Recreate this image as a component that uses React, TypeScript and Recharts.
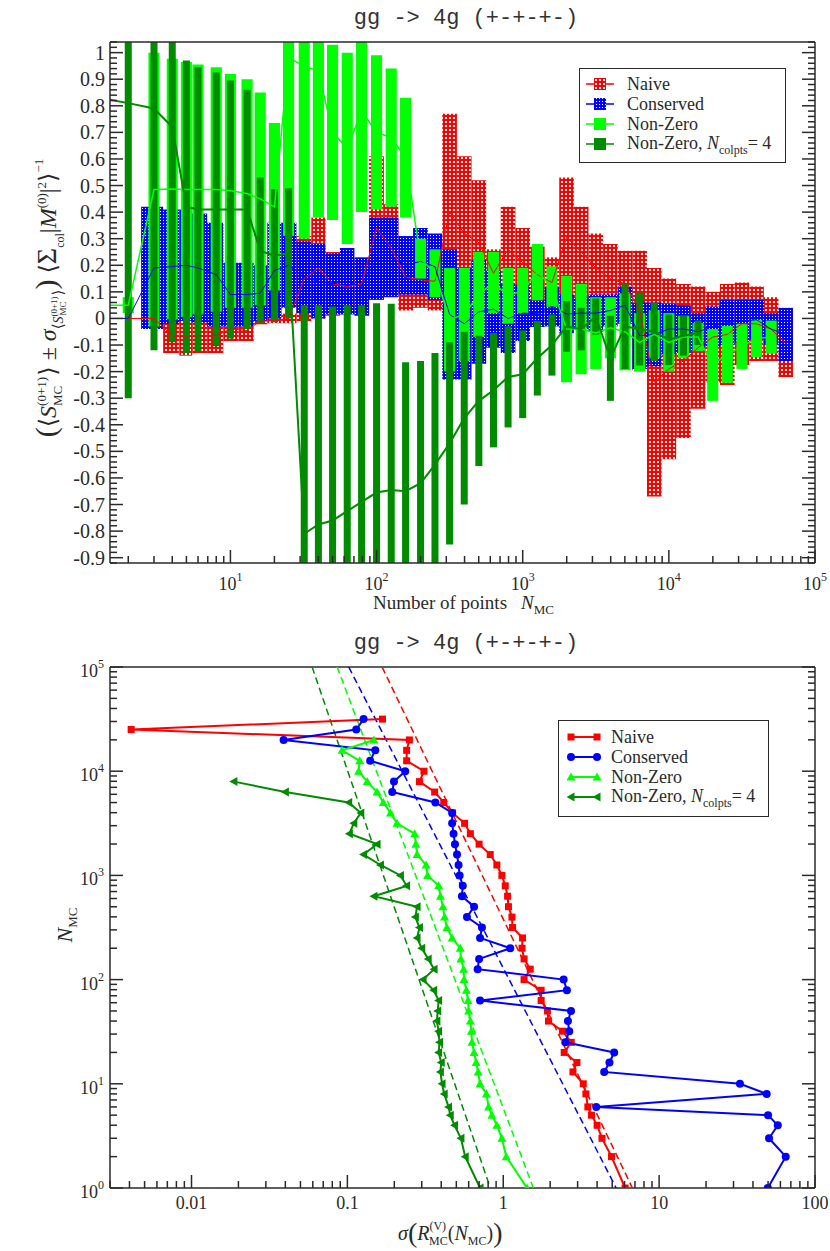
import React from 'react';
import { ComposedChart, XAxis, YAxis, Line, Scatter, ReferenceArea, Legend } from 'recharts';

const SERIF = "'Liberation Serif', 'Times New Roman', 'DejaVu Serif', serif";
const MONO = "'Liberation Mono', 'DejaVu Sans Mono', monospace";
const INK = '#2a2a2a';
const RED = '#ff0000';
const BLUE = '#0000ff';
const LIME = '#00ff00';
const GREEN = '#008b00';

// upper panel: running mean +- error vs number of points
const topN = [1, 2, 3, 4, 5, 6, 8, 10, 13, 16, 20, 25, 32, 40, 50, 63, 79, 100, 126, 158, 200, 251, 316, 398, 501, 631, 794, 1000, 1259, 1585, 1995, 2512, 3162, 3981, 5012, 6310, 7943, 10000, 12589, 15849, 19953, 25119, 31623, 39811, 50119, 63096];

const naiveMean = [0, 0, 0, -0.065, -0.07, -0.065, -0.065, -0.04, -0.045, -0.01, -0.008, 0.0, 0.15, 0.19, 0.13, 0.12, 0.13, 0.34, 0.265, 0.155, 0.145, 0.14, 0.4, 0.32, 0.285, 0.17, 0.26, 0.21, 0.165, 0.135, 0.305, 0.25, 0.19, 0.15, 0.13, 0.03, -0.24, -0.19, -0.16, -0.11, -0.07, -0.06, -0.02, -0.02, -0.04, -0.095];
const naiveErr = [0, 0, 0, 0.065, 0.07, 0.065, 0.065, 0.045, 0.04, 0.012, 0.01, 0.018, 0.16, 0.19, 0.12, 0.1, 0.08, 0.27, 0.165, 0.125, 0.105, 0.11, 0.37, 0.29, 0.235, 0.09, 0.16, 0.13, 0.105, 0.095, 0.225, 0.17, 0.13, 0.13, 0.125, 0.225, 0.43, 0.34, 0.29, 0.23, 0.17, 0.19, 0.155, 0.14, 0.12, 0.125];

const conservedMean = [0, 0, 0.19, 0.195, 0.2, 0.19, 0.165, 0.09, 0.09, 0.095, 0.18, 0.2, 0.155, 0.14, 0.13, 0.14, 0.12, 0.225, 0.23, 0.2, 0.215, 0.195, 0.015, -0.02, 0.025, 0.035, 0.0, 0.02, 0.018, 0.045, 0.017, 0.02, 0.02, 0.03, 0.05, -0.065, -0.06, -0.04, -0.04, -0.05, -0.03, -0.015, -0.01, -0.005, -0.04, -0.06];
const conservedErr = [0, 0, 0.23, 0.215, 0.21, 0.205, 0.195, 0.12, 0.12, 0.105, 0.18, 0.16, 0.135, 0.14, 0.115, 0.125, 0.11, 0.155, 0.15, 0.11, 0.125, 0.125, 0.245, 0.21, 0.195, 0.145, 0.13, 0.105, 0.05, 0.075, 0.073, 0.06, 0.07, 0.06, 0.07, 0.125, 0.12, 0.095, 0.09, 0.07, 0.075, 0.085, 0.08, 0.075, 0.06, 0.1];

const nonZeroMean = [0.05, 0.05, 0.485, 0.487, 0.485, 0.485, 0.485, 0.48, 0.47, 0.45, 0.42, 0.98, 0.95, 0.93, 0.7, 0.64, 0.78, 0.7, 0.68, 0.605, 0.225, 0.17, -0.005, 0.015, 0.09, 0.135, 0.085, 0.105, 0.174, 0.12, -0.04, -0.04, -0.055, -0.035, -0.05, -0.09, -0.06, -0.09, -0.07, -0.07, -0.175, -0.135, -0.105, -0.075, -0.07, null];
const nonZeroErr = [0, 0.03, 0.515, 0.49, 0.48, 0.47, 0.46, 0.44, 0.43, 0.4, 0.315, 0.67, 0.65, 0.55, 0.33, 0.36, 0.38, 0.29, 0.26, 0.225, 0.075, 0.09, 0.195, 0.175, 0.16, 0.115, 0.105, 0.085, 0.106, 0.076, 0.2, 0.17, 0.135, 0.115, 0.145, 0.11, 0.09, 0.11, 0.08, 0.053, 0.135, 0.107, 0.085, 0.07, 0.062, null];

const colptsMean = [0.84, 0.81, 0.79, 0.72, 0.42, 0.41, 0.41, 0.41, 0.41, 0.255, 0.236, 0.245, -0.81, -0.775, -0.76, -0.725, -0.69, -0.655, -0.645, -0.65, -0.62, -0.55, -0.47, -0.375, -0.31, -0.27, -0.22, -0.21, -0.15, -0.1, -0.03, -0.04, 0.007, -0.15, -0.03, -0.04, -0.05, -0.08, -0.065, -0.054, null, null, null, null, null, null];
const colptsErr = [0, 1.11, 0.91, 0.81, 0.55, 0.535, 0.515, 0.485, 0.45, 0.275, 0.25, 0.245, 0.86, 0.825, 0.805, 0.775, 0.74, 0.712, 0.7, 0.485, 0.46, 0.42, 0.38, 0.325, 0.245, 0.215, 0.19, 0.165, 0.14, 0.115, 0.095, 0.08, 0.068, 0.16, 0.16, 0.137, 0.11, 0.095, 0.075, 0.046, null, null, null, null, null, null];

// lower panel: spread of the estimate vs number of points
const bottomN = [1, 2, 3, 4, 5, 6, 8, 10, 13, 16, 20, 25, 32, 40, 50, 63, 79, 100, 126, 158, 200, 251, 316, 398, 501, 631, 794, 1000, 1259, 1585, 1995, 2512, 3162, 3981, 5012, 6310, 7943, 10000, 12589, 15849, 19953, 25119, 31623];
const naiveSigma = [6.05, 4.95, 4.3, 4.0, 3.68, 3.49, 3.39, 3.26, 2.8, 2.97, 2.46, 2.73, 2.4, 1.95, 1.92, 1.75, 1.75, 1.36, 1.49, 1.36, 1.32, 1.33, 1.147, 1.137, 1.08, 1.066, 1.03, 0.98, 0.91, 0.825, 0.7, 0.615, 0.565, 0.473, 0.415, 0.363, 0.29, 0.31, 0.24, 0.24, 0.25, 0.0041, 0.168];
const conservedSigma = [49.8, 64.9, 50.7, 57.7, 50, 3.95, 49, 33, 4.44, 4.8, 5.15, 2.5, 2.65, 2.6, 2.72, 0.71, 2.56, 2.44, 0.685, 0.7, 1.11, 0.71, 0.73, 0.585, 0.65, 0.543, 0.55, 0.525, 0.517, 0.505, 0.49, 0.48, 0.47, 0.47, 0.367, 0.194, 0.199, 0.235, 0.14, 0.151, 0.039, 0.114, 0.127];
const nonZeroSigma = [1.42, 1.045, 0.98, 0.91, 0.846, 0.805, 0.78, 0.71, 0.69, 0.67, 0.65, 0.63, 0.624, 0.615, 0.6, 0.594, 0.58, 0.56, 0.557, 0.535, 0.53, 0.47, 0.435, 0.42, 0.41, 0.395, 0.385, 0.327, 0.32, 0.28, 0.275, 0.27, 0.208, 0.189, 0.17, 0.155, 0.134, 0.118, 0.12, 0.0925, 0.148, null, null];
const colptsSigma = [0.71, 0.57, 0.535, 0.487, 0.457, 0.446, 0.418, 0.405, 0.395, 0.4, 0.385, 0.39, 0.385, 0.375, 0.38, 0.385, 0.358, 0.306, 0.36, 0.33, 0.3, 0.28, 0.29, 0.273, 0.28, 0.148, 0.24, 0.219, 0.163, 0.127, 0.155, 0.103, 0.11, 0.122, 0.102, 0.04, 0.0187, null, null, null, null, null, null];

// dashed fits: sigma at N = 1e5 and at N = 1
const fitN = [100000, 1];
const naiveFit = [0.167, 6.74];
const conservedFit = [0.102, 5.3];
const nonZeroFit = [0.086, 1.56];
const colptsFit = [0.0594, 0.826];

// axis tick labels
const topYMajor = [1, 0.9, 0.8, 0.7, 0.6, 0.5, 0.4, 0.3, 0.2, 0.1, 0, -0.1, -0.2, -0.3, -0.4, -0.5, -0.6, -0.7, -0.8, -0.9];
const bottomXLabels = ['0.01', '0.1', '1', '10', '100'];

const TOP_X_DOMAIN = [1.5, 100000];
const TOP_Y_DOMAIN = [-0.92, 1.04];
const BOT_X_DOMAIN = [0.003, 100];
const BOT_Y_DOMAIN = [1, 100000];

const isPow10 = (v: number) => Math.abs(Math.log10(v) - Math.round(Math.log10(v))) < 1e-6;

const logTicks = (lo: number, hi: number) => {
  const out: number[] = [];
  for (let e = Math.floor(Math.log10(lo)); e <= Math.ceil(Math.log10(hi)); e++) {
    for (let m = 1; m < 10; m++) {
      const v = m * Math.pow(10, e);
      if (v >= lo * 0.999999 && v <= hi * 1.000001) out.push(v);
    }
  }
  return out;
};

const topXTicks = logTicks(TOP_X_DOMAIN[0], TOP_X_DOMAIN[1]);
const botXTicks = logTicks(BOT_X_DOMAIN[0], BOT_X_DOMAIN[1]);
const botYTicks = logTicks(BOT_Y_DOMAIN[0], BOT_Y_DOMAIN[1]);
// minor ticks every 0.02, major ones are the labelled values
const topYTicks = Array.from({ length: 99 }, (_, i) => (i - 46) / 50);
const isTenth = (v: number) => topYMajor.some((m) => Math.abs(m - v) < 1e-6);

const axisLine = { stroke: INK, strokeWidth: 1.5 };
const len = (major: boolean) => (major ? 13 : 7);

function PowBottomTick({ x, y, payload }: any) {
  const v = payload.value;
  const major = isPow10(v);
  return (
    <g>
      <line x1={x} x2={x} y1={y} y2={y - len(major)} stroke={INK} strokeWidth={1.5} />
      {major && (
        <text x={x} y={y + 27} textAnchor="middle" fontFamily={SERIF} fontSize={18} fill={INK}>
          10<tspan dy={-9} fontSize={12}>{Math.round(Math.log10(v))}</tspan>
        </text>
      )}
    </g>
  );
}

function DecBottomTick({ x, y, payload }: any) {
  const v = payload.value;
  const major = isPow10(v);
  const idx = Math.round(Math.log10(v)) + 2;
  return (
    <g>
      <line x1={x} x2={x} y1={y} y2={y - len(major)} stroke={INK} strokeWidth={1.5} />
      {major && (
        <text x={x} y={y + 21} textAnchor="middle" fontFamily={SERIF} fontSize={18} fill={INK}>
          {bottomXLabels[idx]}
        </text>
      )}
    </g>
  );
}

function LogTopTick({ x, y, payload }: any) {
  const major = isPow10(payload.value);
  return <line x1={x} x2={x} y1={y} y2={y + len(major)} stroke={INK} strokeWidth={1.5} />;
}

function LinLeftTick({ x, y, payload }: any) {
  const v = payload.value;
  const major = isTenth(v);
  const label = Math.abs(v) < 1e-9 ? '0' : Math.abs(v - 1) < 1e-9 ? '1' : v.toFixed(1);
  return (
    <g>
      <line x1={x} x2={x + len(major)} y1={y} y2={y} stroke={INK} strokeWidth={1.5} />
      {major && (
        <text x={x - 5} y={y + 7} textAnchor="end" fontFamily={SERIF} fontSize={20} fill={INK}>
          {label}
        </text>
      )}
    </g>
  );
}

function LinRightTick({ x, y, payload }: any) {
  const major = isTenth(payload.value);
  return <line x1={x} x2={x - len(major)} y1={y} y2={y} stroke={INK} strokeWidth={1.5} />;
}

function PowLeftTick({ x, y, payload }: any) {
  const v = payload.value;
  const major = isPow10(v);
  return (
    <g>
      <line x1={x} x2={x + len(major)} y1={y} y2={y} stroke={INK} strokeWidth={1.5} />
      {major && (
        <text x={x - 6} y={y + 10} textAnchor="end" fontFamily={SERIF} fontSize={18} fill={INK}>
          10<tspan dy={-9} fontSize={12}>{Math.round(Math.log10(v))}</tspan>
        </text>
      )}
    </g>
  );
}

function LogRightTick({ x, y, payload }: any) {
  const major = isPow10(payload.value);
  return <line x1={x} x2={x - len(major)} y1={y} y2={y} stroke={INK} strokeWidth={1.5} />;
}

// contiguous step boxes (edges half way between neighbours on the log axis)
const stepEdges = (i: number) => {
  const n = topN[i];
  const lo = i > 0 ? Math.sqrt(topN[i - 1] * n) : n / 1.12;
  const hi = i < topN.length - 1 ? Math.sqrt(n * topN[i + 1]) : n * 1.12;
  return [lo, hi];
};

const boxes = (key: string, mean: (number | null)[], err: (number | null)[], fill: string, halfFactor: number | null) =>
  topN.map((n, i) => {
    const m = mean[i];
    const e = err[i];
    if (m == null || e == null || e === 0) return null;
    const [x1, x2] = halfFactor == null ? stepEdges(i) : [n / halfFactor, n * halfFactor];
    return (
      <ReferenceArea
        key={`${key}-${i}`}
        x1={x1}
        x2={x2}
        y1={m - e}
        y2={m + e}
        fill={fill}
        fillOpacity={1}
        stroke="none"
        ifOverflow="hidden"
      />
    );
  });

const lineData = (vals: (number | null)[]) => topN.map((n, i) => ({ n, v: vals[i] }));

const pointData = (sig: (number | null)[]) =>
  bottomN.map((n, i) => ({ s: sig[i], n })).filter((d) => d.s != null);

const fitData = (ends: number[]) => fitN.map((n, i) => ({ s: ends[i], n }));

const square = (color: string) => (p: any) => <rect x={p.cx - 3.5} y={p.cy - 3.5} width={7} height={7} fill={color} />;
const circle = (color: string) => (p: any) => <circle cx={p.cx} cy={p.cy} r={4} fill={color} />;
const triUp = (color: string) => (p: any) => (
  <polygon points={`${p.cx},${p.cy - 4.5} ${p.cx - 4.5},${p.cy + 3.5} ${p.cx + 4.5},${p.cy + 3.5}`} fill={color} />
);
const triLeft = (color: string) => (p: any) => (
  <polygon points={`${p.cx - 4.5},${p.cy} ${p.cx + 3.5},${p.cy - 4.5} ${p.cx + 3.5},${p.cy + 4.5}`} fill={color} />
);
const noMarker = () => <g />;

const colptsLabel = (
  <span>
    Non-Zero, <i>N</i>
    <span style={{ fontSize: 12, position: 'relative', top: 5 }}>colpts</span>= 4
  </span>
);

const legendBox = {
  boxSizing: 'border-box' as const,
  border: `1.5px solid ${INK}`,
  background: '#fff',
  fontFamily: SERIF,
  fontSize: 18,
  color: INK,
};
const legendRow = { display: 'flex', alignItems: 'center', height: 20, lineHeight: '18px' };

const TopLegend = () => {
  const items = [
    { label: <span>Naive</span>, color: RED, fill: 'url(#hatchRed)' },
    { label: <span>Conserved</span>, color: BLUE, fill: 'url(#hatchBlue)' },
    { label: <span>Non-Zero</span>, color: LIME, fill: LIME },
    { label: colptsLabel, color: GREEN, fill: GREEN },
  ];
  return (
    <div style={{ ...legendBox, width: 207, height: 95, padding: '5px 0 0 6px' }}>
      {items.map((it, k) => (
        <div key={k} style={legendRow}>
          <svg width={28} height={20}>
            <line x1={0} x2={28} y1={10} y2={10} stroke={it.color} strokeWidth={1.5} />
            <rect x={8} y={4} width={12} height={12} fill={it.fill} />
          </svg>
          <span style={{ marginLeft: 13, whiteSpace: 'nowrap' }}>{it.label}</span>
        </div>
      ))}
    </div>
  );
};

const BottomLegend = () => {
  const items = [
    { label: <span>Naive</span>, color: RED, marker: square(RED) },
    { label: <span>Conserved</span>, color: BLUE, marker: circle(BLUE) },
    { label: <span>Non-Zero</span>, color: LIME, marker: triUp(LIME) },
    { label: colptsLabel, color: GREEN, marker: triLeft(GREEN) },
  ];
  return (
    <div style={{ ...legendBox, width: 211, height: 97, padding: '6px 0 0 8px' }}>
      {items.map((it, k) => (
        <div key={k} style={legendRow}>
          <svg width={34} height={20}>
            <line x1={3} x2={31} y1={10} y2={10} stroke={it.color} strokeWidth={2} />
            {it.marker({ cx: 4, cy: 10 })}
            {it.marker({ cx: 30, cy: 10 })}
          </svg>
          <span style={{ marginLeft: 10, whiteSpace: 'nowrap' }}>{it.label}</span>
        </div>
      ))}
    </div>
  );
};

export default function App() {
  return (
    <div style={{ position: 'absolute', left: 0, top: 0, width: 830, height: 1251, background: '#fff' }}>
      <div style={{ position: 'absolute', left: 0, top: 0 }}>
        <ComposedChart width={830} height={600} margin={{ top: 41, right: 14, bottom: 0, left: 0 }}>
          <defs>
            <pattern id="hatchRed" width={4} height={4} patternUnits="userSpaceOnUse">
              <rect width={4} height={4} fill={RED} />
              <rect x={1} y={1} width={2} height={2} fill="#ffffff" />
            </pattern>
            <pattern id="hatchBlue" width={3} height={3} patternUnits="userSpaceOnUse">
              <rect width={3} height={3} fill={BLUE} />
              <rect x={1} y={1} width={1} height={1} fill="#ffffff" />
            </pattern>
          </defs>
          <XAxis
            dataKey="n"
            type="number"
            scale="log"
            domain={TOP_X_DOMAIN}
            allowDataOverflow
            ticks={topXTicks}
            interval={0}
            tickSize={0}
            tickMargin={0}
            tickLine={false}
            axisLine={axisLine}
            height={37}
            tick={(p: any) => <PowBottomTick {...p} />}
          />
          <XAxis
            xAxisId="top"
            orientation="top"
            type="number"
            scale="log"
            domain={TOP_X_DOMAIN}
            allowDataOverflow
            ticks={topXTicks}
            interval={0}
            tickSize={0}
            tickMargin={0}
            tickLine={false}
            axisLine={axisLine}
            height={1}
            tick={(p: any) => <LogTopTick {...p} />}
          />
          <YAxis
            type="number"
            domain={TOP_Y_DOMAIN}
            allowDataOverflow
            ticks={topYTicks}
            interval={0}
            tickSize={0}
            tickMargin={0}
            tickLine={false}
            axisLine={axisLine}
            width={110}
            tick={(p: any) => <LinLeftTick {...p} />}
          />
          <YAxis
            yAxisId="right"
            orientation="right"
            type="number"
            domain={TOP_Y_DOMAIN}
            allowDataOverflow
            ticks={topYTicks}
            interval={0}
            tickSize={0}
            tickMargin={0}
            tickLine={false}
            axisLine={axisLine}
            width={1}
            tick={(p: any) => <LinRightTick {...p} />}
          />

          {boxes('naive', naiveMean, naiveErr, 'url(#hatchRed)', null)}
          {boxes('cons', conservedMean, conservedErr, 'url(#hatchBlue)', null)}
          {boxes('nz', nonZeroMean, nonZeroErr, LIME, Math.pow(10, 0.038))}
          {boxes('nz4', colptsMean, colptsErr, GREEN, Math.pow(10, 0.024))}

          <Line data={lineData(naiveMean)} dataKey="v" stroke={RED} strokeWidth={1} dot={false} isAnimationActive={false} />
          <Line data={lineData(conservedMean)} dataKey="v" stroke={BLUE} strokeWidth={1} dot={false} isAnimationActive={false} />
          <Line data={lineData(nonZeroMean)} dataKey="v" stroke={LIME} strokeWidth={1.5} dot={false} isAnimationActive={false} />
          <Line data={lineData(colptsMean)} dataKey="v" stroke={GREEN} strokeWidth={2} dot={false} isAnimationActive={false} />

          <Legend
            verticalAlign="middle"
            align="center"
            layout="horizontal"
            content={() => <TopLegend />}
            wrapperStyle={{ left: 579, top: 68, width: 207, height: 95 }}
          />
        </ComposedChart>
      </div>

      <div style={{ position: 'absolute', left: 0, top: 620 }}>
        <ComposedChart width={830} height={631} margin={{ top: 46, right: 14, bottom: 0, left: 0 }}>
          <XAxis
            dataKey="s"
            type="number"
            scale="log"
            domain={BOT_X_DOMAIN}
            allowDataOverflow
            ticks={botXTicks}
            interval={0}
            tickSize={0}
            tickMargin={0}
            tickLine={false}
            axisLine={axisLine}
            height={63}
            tick={(p: any) => <DecBottomTick {...p} />}
          />
          <XAxis
            xAxisId="top"
            orientation="top"
            type="number"
            scale="log"
            domain={BOT_X_DOMAIN}
            allowDataOverflow
            ticks={botXTicks}
            interval={0}
            tickSize={0}
            tickMargin={0}
            tickLine={false}
            axisLine={axisLine}
            height={1}
            tick={(p: any) => <LogTopTick {...p} />}
          />
          <YAxis
            dataKey="n"
            type="number"
            scale="log"
            domain={BOT_Y_DOMAIN}
            allowDataOverflow
            ticks={botYTicks}
            interval={0}
            tickSize={0}
            tickMargin={0}
            tickLine={false}
            axisLine={axisLine}
            width={110}
            tick={(p: any) => <PowLeftTick {...p} />}
          />
          <YAxis
            yAxisId="right"
            orientation="right"
            type="number"
            scale="log"
            domain={BOT_Y_DOMAIN}
            allowDataOverflow
            ticks={botYTicks}
            interval={0}
            tickSize={0}
            tickMargin={0}
            tickLine={false}
            axisLine={axisLine}
            width={1}
            tick={(p: any) => <LogRightTick {...p} />}
          />

          <Scatter data={fitData(naiveFit)} fill={RED} shape={noMarker} line={{ stroke: RED, strokeWidth: 1.5, strokeDasharray: '7 4' }} isAnimationActive={false} />
          <Scatter data={fitData(conservedFit)} fill={BLUE} shape={noMarker} line={{ stroke: BLUE, strokeWidth: 1.5, strokeDasharray: '7 4' }} isAnimationActive={false} />
          <Scatter data={fitData(nonZeroFit)} fill={LIME} shape={noMarker} line={{ stroke: LIME, strokeWidth: 1.5, strokeDasharray: '7 4' }} isAnimationActive={false} />
          <Scatter data={fitData(colptsFit)} fill={GREEN} shape={noMarker} line={{ stroke: GREEN, strokeWidth: 1.5, strokeDasharray: '7 4' }} isAnimationActive={false} />

          <Scatter data={pointData(naiveSigma)} fill={RED} shape={square(RED)} line={{ stroke: RED, strokeWidth: 2 }} isAnimationActive={false} />
          <Scatter data={pointData(conservedSigma)} fill={BLUE} shape={circle(BLUE)} line={{ stroke: BLUE, strokeWidth: 2 }} isAnimationActive={false} />
          <Scatter data={pointData(nonZeroSigma)} fill={LIME} shape={triUp(LIME)} line={{ stroke: LIME, strokeWidth: 2 }} isAnimationActive={false} />
          <Scatter data={pointData(colptsSigma)} fill={GREEN} shape={triLeft(GREEN)} line={{ stroke: GREEN, strokeWidth: 2 }} isAnimationActive={false} />

          <Legend
            verticalAlign="middle"
            align="center"
            layout="horizontal"
            content={() => <BottomLegend />}
            wrapperStyle={{ left: 558, top: 100, width: 211, height: 97 }}
          />
        </ComposedChart>
      </div>

      <svg
        width={830}
        height={1251}
        style={{ position: 'absolute', left: 0, top: 0, pointerEvents: 'none' }}
      >
        <text x={466} y={24} textAnchor="middle" fontFamily={MONO} fontSize={22} fill="#333">
          gg -&gt; 4g (+-+-+-)
        </text>
        <text x={466} y={649} textAnchor="middle" fontFamily={MONO} fontSize={22} fill="#333">
          gg -&gt; 4g (+-+-+-)
        </text>

        <text x={373} y={609} fontFamily={SERIF} fontSize={19} fill={INK}>
          Number of points
          <tspan dx={14} fontStyle="italic">N</tspan>
          <tspan fontSize={13} dy={5}>MC</tspan>
        </text>

        <text transform="rotate(-90)" x={-298} y={56} textAnchor="middle" fontFamily={SERIF} fontSize={24} fill={INK}>
          <tspan fontSize={30}>(</tspan>
          <tspan>⟨</tspan>
          <tspan fontStyle="italic">S</tspan>
          <tspan fontSize={13} dy={-10}>(0+1)</tspan>
          <tspan fontSize={13} dx={-29} dy={16}>MC</tspan>
          <tspan dx={10} dy={-6}>⟩ ± </tspan>
          <tspan fontStyle="italic">σ</tspan>
          <tspan fontSize={15} dy={7}>⟨</tspan>
          <tspan fontSize={14} fontStyle="italic">S</tspan>
          <tspan fontSize={9} dy={-6}>(0+1)</tspan>
          <tspan fontSize={9} dx={-19} dy={9}>MC</tspan>
          <tspan fontSize={15} dx={6} dy={-3}>⟩</tspan>
          <tspan fontSize={30} dy={-7}>)</tspan>
          <tspan dx={6}>⟨</tspan>
          <tspan fontSize={28}>Σ</tspan>
          <tspan fontSize={12} dy={8}>col</tspan>
          <tspan dy={-8}>|</tspan>
          <tspan fontStyle="italic">M</tspan>
          <tspan fontSize={13} dy={-10}>(0)</tspan>
          <tspan dy={10}>|</tspan>
          <tspan fontSize={13} dy={-10}>2</tspan>
          <tspan dy={10}>⟩</tspan>
          <tspan fontSize={13} dy={-13}>−1</tspan>
        </text>

        <text transform="rotate(-90)" x={-925} y={72} textAnchor="middle" fontFamily={SERIF} fontSize={22} fill={INK}>
          <tspan fontStyle="italic">N</tspan>
          <tspan fontSize={13} dy={5}>MC</tspan>
        </text>

        <text x={398} y={1240} fontFamily={SERIF} fontSize={20} fill={INK}>
          <tspan fontStyle="italic">σ</tspan>
          <tspan fontSize={28} dy={2}>(</tspan>
          <tspan fontStyle="italic" dy={-2}>R</tspan>
          <tspan fontSize={12} dy={-10}>(V)</tspan>
          <tspan fontSize={12} dx={-17} dy={15}>MC</tspan>
          <tspan dy={-5}>(</tspan>
          <tspan fontStyle="italic">N</tspan>
          <tspan fontSize={12} dy={5}>MC</tspan>
          <tspan dy={-5}>)</tspan>
          <tspan fontSize={28} dy={2}>)</tspan>
        </text>
      </svg>
    </div>
  );
}
